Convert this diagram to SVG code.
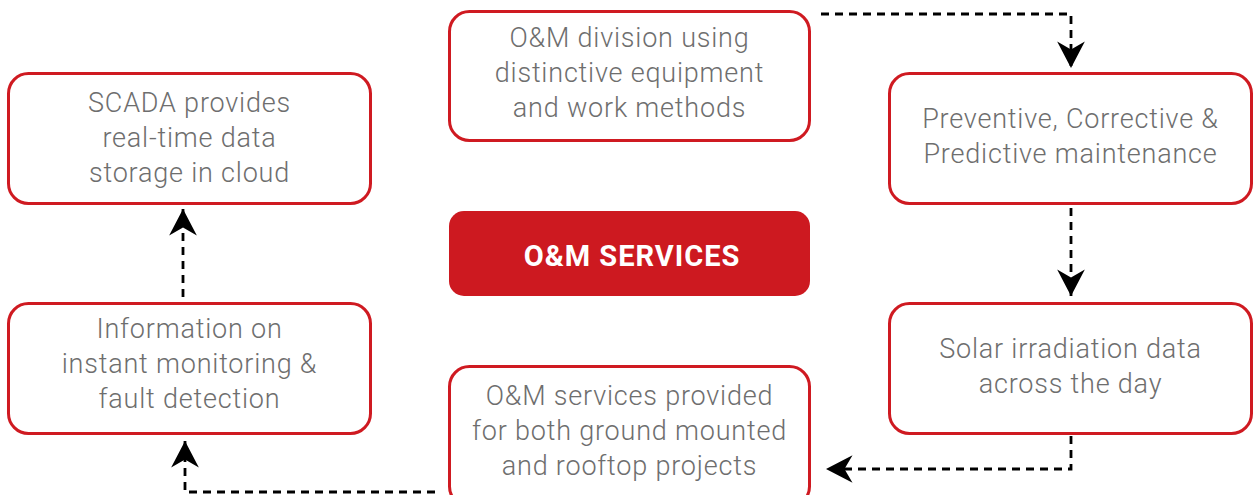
<svg xmlns="http://www.w3.org/2000/svg" width="1255" height="495" viewBox="0 0 1255 495">
<style>
.box{fill:#fff;stroke:#cf1a21;stroke-width:3}
.t{font-family:Roboto,"Liberation Sans",sans-serif;font-weight:300;font-size:27px;fill:#6e6e6e;text-anchor:middle;letter-spacing:0.8px}
.c{fill:none;stroke:#000;stroke-width:2.8;stroke-dasharray:8 6;marker-end:url(#ah)}
</style>
<defs>
<marker id="ah" markerUnits="userSpaceOnUse" markerWidth="30" markerHeight="30" viewBox="-24 -13 26 26" refX="0" refY="0" orient="auto">
<path d="M-23,-12 L0,0 L-23,12 L-16,0 z" fill="#000"/>
</marker>
</defs>
<g id="connectors">
<path class="c" d="M821 14 H1071 V68"/>
<path class="c" d="M1071 208 V296"/>
<path class="c" d="M1071 436 V469 H826"/>
<path class="c" d="M435 492 H185 V441"/>
<path class="c" d="M183 297 V209"/>
</g>
<g id="scada">
<rect class="box" x="8.5" y="73.5" width="362" height="130" rx="20"/>
<text class="t" x="189.5" y="112">SCADA provides</text>
<text class="t" x="189.5" y="147">real-time data</text>
<text class="t" x="189.5" y="182">storage in cloud</text>
</g>
<g id="division">
<rect class="box" x="449.5" y="11.5" width="360" height="129" rx="20"/>
<text class="t" x="629.5" y="47">O&amp;M division using</text>
<text class="t" x="629.5" y="82">distinctive equipment</text>
<text class="t" x="629.5" y="117">and work methods</text>
</g>
<g id="maintenance">
<rect class="box" x="889.5" y="73.5" width="362" height="130" rx="20"/>
<text class="t" x="1070.5" y="128">Preventive, Corrective &amp;</text>
<text class="t" x="1070.5" y="163">Predictive maintenance</text>
</g>
<g id="center">
<rect x="449" y="211" width="361" height="85" rx="15" fill="#cd1920"/>
<text x="632" y="266" font-family="Roboto,'Liberation Sans',sans-serif" font-weight="700" font-size="29" fill="#fff" text-anchor="middle" letter-spacing="1">O&amp;M SERVICES</text>
</g>
<g id="monitoring">
<rect class="box" x="8.5" y="303.5" width="362" height="130" rx="20"/>
<text class="t" x="189.5" y="338">Information on</text>
<text class="t" x="189.5" y="373">instant monitoring &amp;</text>
<text class="t" x="189.5" y="408">fault detection</text>
</g>
<g id="irradiation">
<rect class="box" x="889.5" y="303.5" width="362" height="130" rx="20"/>
<text class="t" x="1070.5" y="358">Solar irradiation data</text>
<text class="t" x="1070.5" y="393">across the day</text>
</g>
<g id="projects">
<rect class="box" x="449.5" y="366.5" width="360" height="140" rx="20"/>
<text class="t" x="629.5" y="405">O&amp;M services provided</text>
<text class="t" x="629.5" y="440">for both ground mounted</text>
<text class="t" x="629.5" y="475">and rooftop projects</text>
</g>
</svg>
